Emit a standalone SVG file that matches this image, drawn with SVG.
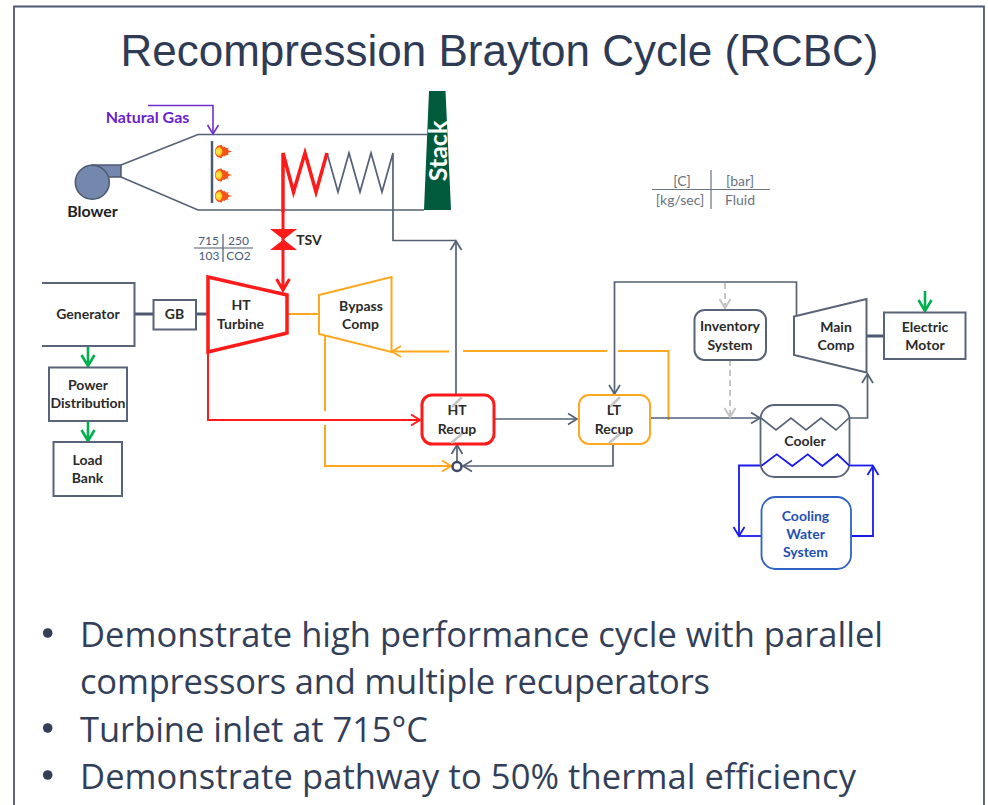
<svg xmlns="http://www.w3.org/2000/svg" width="988" height="805" viewBox="0 0 988 805">
<style>
.l{font-family:"Lato","Open Sans","Liberation Sans",sans-serif;font-weight:700;font-size:14px;fill:#2b2b2b;text-anchor:middle}
.n{font-family:"Lato","Open Sans","Liberation Sans",sans-serif;font-size:12px;fill:#4a5a78;text-anchor:middle}
.g{font-family:"Lato","Open Sans","Liberation Sans",sans-serif;font-size:14px;fill:#6b7280;text-anchor:middle}
.b{font-family:"Open Sans","Noto Sans","Liberation Sans",sans-serif;font-size:34.5px;fill:#333f58}
.box{fill:#fff;stroke:#5a6478;stroke-width:2}
.c{fill:none;stroke:#556176;stroke-width:1.7}
.r{fill:none;stroke:#ff1a1a;stroke-width:2}
.o{fill:none;stroke:#ffa81f;stroke-width:2}
.u{fill:none;stroke:#1a1aee;stroke-width:1.8}
.v{fill:none;stroke:#00b050;stroke-width:2.6}
.s{fill:none;stroke:#c4c4c4;stroke-width:2}
.shaft{fill:none;stroke:#4d5a70;stroke-width:3}
.slash{fill:none;stroke:#c4c4c4;stroke-width:2.6}
</style>
<defs>
<marker id="ac" markerUnits="userSpaceOnUse" markerWidth="14" markerHeight="14" refX="11" refY="7" orient="auto"><path d="M2,1.500L11,7L2,12.500" fill="none" stroke="#556176" stroke-width="1.700"/></marker>
<marker id="ar" markerUnits="userSpaceOnUse" markerWidth="14" markerHeight="14" refX="11" refY="7" orient="auto"><path d="M2,1.500L11,7L2,12.500" fill="none" stroke="#ff1a1a" stroke-width="2"/></marker>
<marker id="ao" markerUnits="userSpaceOnUse" markerWidth="14" markerHeight="14" refX="11" refY="7" orient="auto"><path d="M2,1.500L11,7L2,12.500" fill="none" stroke="#ffa81f" stroke-width="2"/></marker>
<marker id="au" markerUnits="userSpaceOnUse" markerWidth="14" markerHeight="14" refX="11" refY="7" orient="auto"><path d="M2,1.500L11,7L2,12.500" fill="none" stroke="#1a1aee" stroke-width="1.800"/></marker>
<marker id="av" markerUnits="userSpaceOnUse" markerWidth="16" markerHeight="16" refX="13" refY="8" orient="auto"><path d="M2,1.500L13,8L2,14.500" fill="none" stroke="#00b050" stroke-width="2.600"/></marker>
<marker id="as" markerUnits="userSpaceOnUse" markerWidth="14" markerHeight="14" refX="11" refY="7" orient="auto"><path d="M2,1.500L11,7L2,12.500" fill="none" stroke="#c4c4c4" stroke-width="2"/></marker>
<marker id="ap" markerUnits="userSpaceOnUse" markerWidth="14" markerHeight="14" refX="11" refY="7" orient="auto"><path d="M2,1.500L11,7L2,12.500" fill="none" stroke="#7030d0" stroke-width="1.600"/></marker>
<marker id="at" markerUnits="userSpaceOnUse" markerWidth="16" markerHeight="16" refX="13" refY="8" orient="auto"><path d="M2,1.500L13,8L2,14.500" fill="none" stroke="#ff1a1a" stroke-width="3"/></marker>
<radialGradient id="fl" cx="0.4" cy="0.5" r="0.6"><stop offset="0" stop-color="#fff060"/><stop offset="0.7" stop-color="#ffd020"/><stop offset="1" stop-color="#ffa010"/></radialGradient>
<g id="flame">
<path d="M-5,0C-5,-4.500 -2,-6.500 2,-6.500C1.500,-5 3,-4.500 5,-5C4.500,-4 6,-3.500 9,-3.500C7,-2.300 7.500,-1 12,0C7.500,1 7,2.300 9,3.500C6,3.500 4.500,4 5,5C3,4.500 1.500,5 2,6.500C-2,6.500 -5,4.500 -5,0Z" fill="#f2541b"/>
<path d="M-4.500,0C-4.500,-3 -2,-4.500 0,-4.500C1.500,-3 2.500,-1.500 2.500,0C2.500,1.500 1.500,3 0,4.500C-2,4.500 -4.500,3 -4.500,0Z" fill="url(#fl)"/>
</g>
</defs>
<rect width="988" height="805" fill="#fff"/>
<path d="M14,805V6.500H984V805" fill="none" stroke="#4d5870" stroke-width="1.800"/>
<text x="499.500" y="65.500" font-family="Liberation Sans, Arial, sans-serif" font-size="44" fill="#2f3b55" text-anchor="middle">Recompression Brayton Cycle (RCBC)</text>
<g id="connectors">
<path class="c" d="M121,165L198,134.500H427"/>
<path class="c" d="M121,177L198,210H424"/>
<path d="M148,105.500H213V134" fill="none" stroke="#7030d0" stroke-width="1.600" marker-end="url(#ap)"/>
<path class="c" d="M327,153L338,192L349,153L360,192L371,153L382,192L393,153V240.500H456"/>
<path class="c" d="M456,395V241" marker-end="url(#ac)"/>
<path d="M283,210V290" fill="none" stroke="#ff1a1a" stroke-width="3" marker-end="url(#at)"/>
<path d="M283,212V153L293.500,192L305,153L316,192L327,153" fill="none" stroke="#ff1a1a" stroke-width="3.500"/>
<path class="shaft" d="M135,314H153"/>
<path class="shaft" d="M196,314H208"/>
<path class="shaft" d="M867,336H884"/>
<path class="v" d="M88,346V366" marker-end="url(#av)"/>
<path class="v" d="M88,421V441" marker-end="url(#av)"/>
<path class="v" d="M925,291V311" marker-end="url(#av)"/>
<path class="o" d="M288,314H319"/>
<path class="r" d="M208,352V420H420" marker-end="url(#ar)"/>
<path class="o" d="M325,336V411"/>
<path class="o" d="M325,425V466H451" marker-end="url(#ao)"/>
<path class="o" d="M449,351.500H392" marker-end="url(#ao)"/>
<path class="o" d="M607,351H463"/>
<path class="o" d="M618,351H668.500V420"/>
<path class="c" d="M494,419H577" marker-end="url(#ac)"/>
<path class="c" d="M650,418H760" marker-end="url(#ac)"/>
<path class="c" d="M613,444V466H463" marker-end="url(#ac)"/>
<path class="c" d="M457,462V445" marker-end="url(#ac)"/>
<path class="c" d="M796.500,315V282H614.500V394" marker-end="url(#ac)"/>
<path class="s" d="M725,283V308" stroke-dasharray="6 4" marker-end="url(#as)"/>
<path class="s" d="M730,360V417" stroke-dasharray="6 4" marker-end="url(#as)"/>
<path class="c" d="M849,418H867.500V374" marker-end="url(#ac)"/>
<path class="u" d="M761,465.500H739V536" marker-end="url(#au)"/>
<path class="u" d="M739,536H761"/>
<path class="u" d="M851,536H873V466" marker-end="url(#au)"/>
<path class="u" d="M849,465.500H873"/>
</g>
<g id="natural-gas-label"><text x="147.500" y="123" font-family="Lato, Liberation Sans, sans-serif" font-weight="700" font-size="16" fill="#6a22d0" text-anchor="middle">Natural Gas</text></g>
<g id="blower">
<path d="M92,165H121V177H92Z" fill="#7487ad" stroke="#4d5a70" stroke-width="1.500"/>
<circle cx="92.300" cy="182.300" r="17" fill="#7487ad" stroke="#4d5a70" stroke-width="1.500"/>
<text x="92.500" y="216.500" font-family="Lato, Liberation Sans, sans-serif" font-weight="700" font-size="16" fill="#222" text-anchor="middle">Blower</text>
</g>
<g id="burner">
<path d="M212,141V203" stroke="#4d5a70" stroke-width="2.500" fill="none"/>
<use href="#flame" x="220" y="151.500"/><use href="#flame" x="220" y="175"/><use href="#flame" x="220" y="196"/>
</g>
<g id="stack">
<path d="M429,91H445.500L451,210H424Z" fill="#005a3c"/>
<text transform="translate(446.500,151) rotate(-90)" font-family="Lato, Liberation Sans, sans-serif" font-weight="700" font-size="25" fill="#fff" text-anchor="middle">Stack</text>
</g>
<g id="tsv">
<path d="M270,229H297L270,250H297Z" fill="#ff1a1a"/>
<text class="l" x="309" y="245">TSV</text>
</g>
<g id="state-table">
<path d="M194,248H253M223,234V262" stroke="#4d5a70" stroke-width="1.200" fill="none"/>
<text class="n" x="208.500" y="245">715</text><text class="n" x="238.500" y="245">250</text>
<text class="n" x="209" y="260">103</text><text class="n" x="238.500" y="260">CO2</text>
</g>
<g id="legend">
<path d="M652,189.500H770M711,170V209" stroke="#6b7280" stroke-width="1.200" fill="none"/>
<text class="g" x="682" y="186">[C]</text><text class="g" x="740" y="186">[bar]</text>
<text class="g" x="680" y="205">[kg/sec]</text><text class="g" x="740" y="205">Fluid</text>
</g>
<g id="generator">
<path d="M42,283H134.500V346H42" fill="#fff" stroke="#5a6478" stroke-width="2"/>
<text class="l" x="88" y="319">Generator</text>
</g>
<g id="gb"><rect class="box" x="153.500" y="300" width="42.500" height="29.500"/><text class="l" x="174.500" y="319">GB</text></g>
<g id="power-distribution"><rect class="box" x="49" y="367.500" width="78" height="53.500"/><text class="l" x="88" y="390">Power</text><text class="l" x="88" y="408">Distribution</text></g>
<g id="load-bank"><rect class="box" x="53.500" y="442" width="68.500" height="54"/><text class="l" x="87.500" y="465">Load</text><text class="l" x="87.500" y="483">Bank</text></g>
<g id="ht-turbine">
<path d="M208,277L287,295V333L208,352Z" fill="#fff" stroke="#ff1a1a" stroke-width="3.500"/>
<text class="l" x="241" y="310">HT</text><text class="l" x="240.500" y="329">Turbine</text>
</g>
<g id="bypass-comp">
<path d="M319,295L391.500,277V352L319,334Z" fill="#fff" stroke="#ffa81f" stroke-width="2"/>
<text class="l" x="361" y="311">Bypass</text><text class="l" x="360.500" y="329">Comp</text>
</g>
<g id="ht-recup">
<rect x="422" y="395" width="72" height="49" rx="10" fill="#fff" stroke="#ff1a1a" stroke-width="3"/>
<path class="slash" d="M462,397L452,407M463,433L451,443"/>
<text class="l" x="457" y="415">HT</text><text class="l" x="457" y="434">Recup</text>
</g>
<g id="lt-recup">
<rect x="579" y="395" width="71" height="49" rx="10" fill="#fff" stroke="#ffa81f" stroke-width="2"/>
<path class="slash" d="M620,397L610,407M621,433L609,443"/>
<text class="l" x="614" y="415">LT</text><text class="l" x="614" y="434">Recup</text>
</g>
<g id="mixer"><circle cx="457" cy="466.500" r="4.500" fill="#fff" stroke="#3d4a63" stroke-width="2.500"/></g>
<g id="inventory-system"><rect class="box" x="694.500" y="310" width="71.500" height="50" rx="10"/><text class="l" x="730" y="331">Inventory</text><text class="l" x="730" y="350">System</text></g>
<g id="main-comp">
<path d="M794,316.500L866.500,299V372.500L794,355Z" fill="#fff" stroke="#5a6478" stroke-width="2"/>
<text class="l" x="836" y="332">Main</text><text class="l" x="836" y="350">Comp</text>
</g>
<g id="electric-motor"><rect class="box" x="884" y="312.500" width="81.500" height="46.500"/><text class="l" x="925" y="332">Electric</text><text class="l" x="925" y="350">Motor</text></g>
<g id="cooler">
<rect x="760.500" y="405" width="89" height="72" rx="14" fill="#fff" stroke="#5a6478" stroke-width="1.800"/>
<path class="c" d="M761,418L776,430L791,418L806,430L821,418L836,430L849,418"/>
<path class="u" d="M761.500,465.700L776.700,454.300L792.300,466L807.700,454.300L822.300,466L837.300,454.300L849.300,465.700"/>
<text class="l" x="805" y="446">Cooler</text>
</g>
<g id="cooling-water-system">
<rect x="761.500" y="497" width="89.500" height="72" rx="14" fill="#fff" stroke="#2f62c4" stroke-width="1.800"/>
<text class="l" style="fill:#1f50b4" x="805.500" y="521">Cooling</text><text class="l" style="fill:#1f50b4" x="805.500" y="539">Water</text><text class="l" style="fill:#1f50b4" x="805.500" y="557">System</text>
</g>
<g id="bullets">
<circle cx="47.700" cy="633" r="4.800" fill="#333f58"/><circle cx="47.700" cy="728" r="4.800" fill="#333f58"/><circle cx="47.700" cy="775" r="4.800" fill="#333f58"/>
<text class="b" x="80" y="647" textLength="803">Demonstrate high performance cycle with parallel</text>
<text class="b" x="80" y="694" textLength="630">compressors and multiple recuperators</text>
<text class="b" x="80" y="742" textLength="348">Turbine inlet at 715°C</text>
<text class="b" x="80" y="789" textLength="776">Demonstrate pathway to 50% thermal efficiency</text>
</g>
</svg>
